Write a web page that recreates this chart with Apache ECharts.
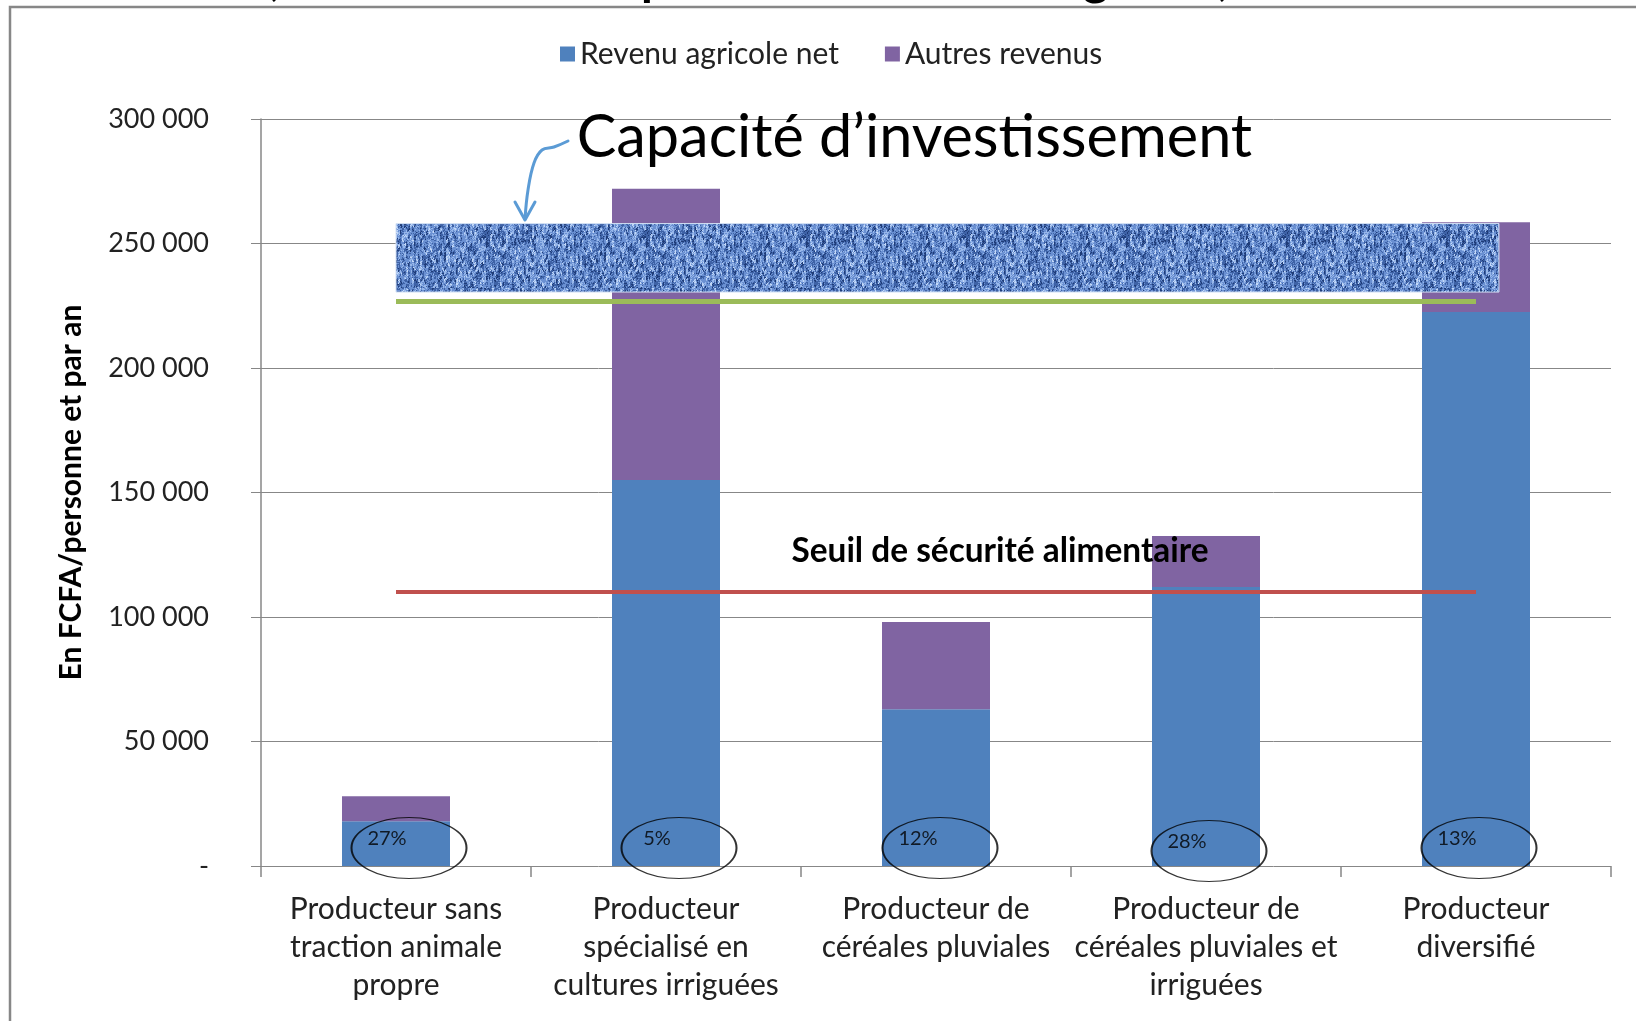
<!DOCTYPE html>
<html><head><meta charset="utf-8">
<script src="https://cdn.jsdelivr.net/npm/echarts@6/dist/echarts.min.js"></script>
<style>html,body{margin:0;padding:0;background:#fff}#c{width:1636px;height:1021px}</style>
</head><body><div id="c"></div>
<script>
// ---- data ----
const categories = [
  'Producteur sans\ntraction animale\npropre',
  'Producteur\nspécialisé en\ncultures irriguées',
  'Producteur de\ncéréales pluviales',
  'Producteur de\ncéréales pluviales et\nirriguées',
  'Producteur\ndiversifié'
];
const revenuAgricoleNet = [18000, 155000, 63000, 112000, 222500];
const autresRevenus = [10000, 117000, 35000, 20500, 36000];
const partMenages = [27, 5, 12, 28, 13];
const seuilSecuriteAlimentaire = 110000;
const seuilCapaciteInvestissement = 227000;
const bandeCapacite = [230500, 258000];
const yAxisRange = [0, 300000];
const yAxisStep = 50000;

// ---- styles ----
const FONT = 'Lato';
const ellipseNudge = [[13, -18], [13, -18], [4, -18], [3, -15], [3, -18]];

function hash(x, y) {
  let n = Math.imul(x, 374761393) + Math.imul(y, 668265263);
  n = Math.imul(n ^ (n >>> 13), 1274126177);
  n = n ^ (n >>> 16);
  return (n >>> 0) / 4294967296;
}
function denimPattern() {
  const c = document.createElement('canvas');
  c.width = 160; c.height = 72;
  const g = c.getContext('2d');
  g.fillStyle = '#5a7fc0';
  g.fillRect(0, 0, c.width, c.height);
  for (let y = 0; y < c.height; y++) {
    for (let x = 0; x < c.width; x++) {
      const h = hash(x >> 1, Math.floor((y + (x % 3)) / 4)) * 0.65 + hash(x, y) * 0.35;
      let col;
      if (h < 0.2) col = '#1f3c78';
      else if (h < 0.42) col = '#3e62a6';
      else if (h < 0.68) col = '#6a90d2';
      else if (h < 0.86) col = '#97b7ea';
      else col = '#c3d8f7';
      g.fillStyle = col;
      g.fillRect(x, y, 1, 1);
    }
  }
  return c;
}

const chart = echarts.init(document.getElementById('c'), null, {renderer: 'canvas'});

const titleFrag = (t, x) => ({
  type: 'text', silent: true, z: 19, x: x, y: -20,
  style: {text: t, font: 'bold 48px ' + FONT, fill: '#000', verticalAlign: 'middle', align: 'left'}
});

const option = {
  backgroundColor: '#fff',
  animation: false,
  textStyle: {fontFamily: FONT},
  legend: {
    data: ['Revenu agricole net', 'Autres revenus'],
    left: 560, top: 39, padding: 0,
    icon: 'rect', itemWidth: 15, itemHeight: 15, itemGap: 46,
    textStyle: {fontFamily: FONT, fontSize: 30, color: '#222'}
  },
  grid: {left: 261, right: 25, top: 119, bottom: 155, containLabel: false},
  xAxis: [{
    type: 'category', data: categories,
    axisLine: {show: false},
    axisTick: {show: true, length: 11, interval: 0, lineStyle: {color: '#878787', width: 1.5}},
    axisLabel: {interval: 0, margin: 24, fontFamily: FONT, fontSize: 30, lineHeight: 38, color: '#222'}
  }, {
    type: 'value', min: 0, max: 5, show: false
  }],
  yAxis: {
    type: 'value', min: yAxisRange[0], max: yAxisRange[1], interval: yAxisStep,
    name: 'En FCFA/personne et par an', nameLocation: 'middle', nameRotate: 90, nameGap: 175,
    nameTextStyle: {fontFamily: FONT, fontSize: 30, fontWeight: 'bold', color: '#000'},
    axisLine: {show: true, lineStyle: {color: '#878787', width: 1.5}},
    axisTick: {show: true, length: 10, lineStyle: {color: '#878787', width: 1}},
    splitLine: {lineStyle: {color: '#878787', width: 1}},
    axisLabel: {
      margin: 52, fontFamily: FONT, fontSize: 27, color: '#222',
      formatter: v => v === 0 ? '-' : String(v).replace(/\B(?=(\d{3})+(?!\d))/g, ' ')
    }
  },
  series: [
    {
      name: 'Revenu agricole net', type: 'bar', stack: 'r', barWidth: '40%',
      itemStyle: {color: '#4F81BD'}, data: revenuAgricoleNet, z: 2
    },
    {
      name: 'Autres revenus', type: 'bar', stack: 'r',
      itemStyle: {color: '#8064A2'}, data: autresRevenus, z: 2
    },
    {
      name: 'annotations', type: 'line', xAxisIndex: 1, yAxisIndex: 0, data: [], z: 6,
      silent: true,
      markArea: {
        silent: true, z: 6,
        itemStyle: {color: {image: denimPattern(), repeat: 'repeat'}, borderColor: '#d3e1f5', borderWidth: 1},
        label: {show: false},
        data: [[{coord: [0.5, bandeCapacite[0]]}, {coord: [4.585, bandeCapacite[1]]}]]
      },
      markLine: {
        silent: true, z: 7, symbol: 'none', label: {show: false},
        data: [
          [{coord: [0.5, seuilCapaciteInvestissement], lineStyle: {color: '#9BBB59', width: 5, type: 'solid'}},
           {coord: [4.5, seuilCapaciteInvestissement]}],
          [{coord: [0.5, seuilSecuriteAlimentaire], lineStyle: {color: '#C0504D', width: 4, type: 'solid'}},
           {coord: [4.5, seuilSecuriteAlimentaire]}]
        ]
      },
      markPoint: {
        silent: true, z: 8, symbol: 'circle', symbolSize: 1,
        itemStyle: {color: 'rgba(0,0,0,0)'},
        data: [
          {coord: [2.737, 126500], label: {show: true, position: 'inside', formatter: 'Seuil de sécurité alimentaire',
            fontFamily: FONT, fontWeight: 'bold', fontSize: 33.4, color: '#000'}},
          {coord: [2.42, 292400], label: {show: true, position: 'inside', formatter: 'Capacité d\u2019investissement',
            fontFamily: FONT, fontSize: 59.4, color: '#000'}}
        ]
      }
    },
    {
      name: 'parts', type: 'scatter', clip: false, silent: true, z: 9,
      data: partMenages.map((p, i) => ({value: [i, 0], symbolOffset: ellipseNudge[i]})),
      symbol: 'circle', symbolSize: [115, 61],
      itemStyle: {color: 'rgba(0,0,0,0)', borderColor: '#000', borderWidth: 1.5},
      label: {show: true, position: 'inside', offset: [-22, -9],
        formatter: p => partMenages[p.dataIndex] + '%', fontFamily: FONT, fontSize: 20, color: '#000'}
    }
  ],
  graphic: [
    titleFrag(',', 270), titleFrag('p', 641), titleFrag('g', 1083), titleFrag(',', 1218),
    {type: 'polyline', silent: true, z: 20,
      shape: {points: [[10, 1030], [10, 7], [1650, 7]]},
      style: {stroke: '#878787', lineWidth: 2.5, fill: null}},
    {type: 'polyline', silent: true, z: 20,
      shape: {points: [[568, 141], [554, 147], [542, 150], [534, 163], [528, 190], [525, 219]], smooth: 0.4},
      style: {stroke: '#5B9BD5', lineWidth: 3, fill: null, lineCap: 'round'}},
    {type: 'polyline', silent: true, z: 20,
      shape: {points: [[515, 202], [525, 220], [535, 202]]},
      style: {stroke: '#5B9BD5', lineWidth: 3, fill: null, lineCap: 'round', lineJoin: 'round'}}
  ]
};
chart.setOption(option);
</script>
</body></html>
